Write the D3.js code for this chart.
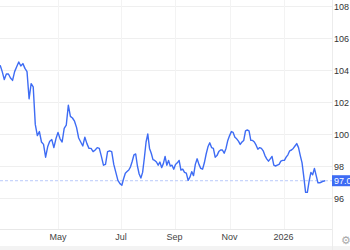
<!DOCTYPE html>
<html>
<head>
<meta charset="utf-8">
<script src="https://cdn.jsdelivr.net/npm/d3@7"></script>
<style>
	html, body { margin: 0; padding: 0; background: #fff; }
	svg { display: block; font-family: "Liberation Sans", Arial, sans-serif; }
</style>
</head>
<body>
<svg class="viz" width="350" height="250"></svg>
<script>
// Dollar index, one reading every 2 days from 6 Mar 2025
const startDate = new Date(2025, 2, 6);
const values = [
	104.3, 103.9, 103.4, 103.75, 103.75, 103.5, 103.35, 103.9, 104.2, 104.5,
	104.25, 104.4, 104.1, 103.9, 102.2, 103.15, 102.95, 100.6, 99.9, 100.15,
	99.5, 99.35, 98.55, 99.2, 99.55, 99.65, 99.15, 99.7, 100.1, 99.7,
	99.5, 100.35, 100.55, 101.8, 101.1, 101.0, 100.8, 100.4, 99.75, 99.5,
	99.25, 99.8, 99.4, 99.1, 99.1, 98.9, 99.0, 99.15, 99.1, 98.6,
	98.05, 98.1, 98.9, 98.95, 98.9, 98.1, 97.6, 97.1, 96.9, 96.8,
	97.2, 97.55, 97.65, 97.75, 97.95, 98.3, 98.7, 98.75, 98.0, 97.5,
	97.25, 97.6, 98.5, 99.5, 100.0, 99.1, 98.8, 98.4, 98.35, 98.25,
	98.05, 98.25, 97.9, 98.15, 98.6, 98.05, 98.35, 98.0, 98.05, 97.8,
	98.1, 98.2, 98.35, 97.75, 97.8, 97.6, 97.55, 97.1, 97.3, 97.65,
	97.4, 98.1, 98.45, 98.1, 97.85, 97.8, 98.2, 98.75, 99.2, 99.45,
	99.15, 99.1, 98.55, 98.65, 98.9, 99.0, 99.0, 98.8, 99.1, 99.6,
	99.9, 100.15, 100.1, 99.8, 99.7, 99.55, 99.35, 99.5, 99.6, 100.2,
	100.25, 100.2, 99.6, 99.6, 99.5, 99.3, 99.05, 99.15, 99.1, 98.95,
	98.65, 98.45, 98.3, 98.45, 98.6, 98.05, 98.0, 98.05, 98.1, 98.3,
	98.35, 98.35, 98.55, 98.7, 98.95, 99.0, 99.1, 99.25, 99.4, 99.15,
	98.65, 98.2, 97.3, 96.35, 96.35, 97.05, 97.6, 97.45, 97.85, 97.4,
	96.95, 96.95, 97.0, 97.05, 97.08
];
const dates = values.map((v, i) => d3.timeDay.offset(startDate, i * 2));

const tickDates = [new Date(2025, 4, 1), new Date(2025, 6, 1), new Date(2025, 8, 1), new Date(2025, 10, 1), new Date(2026, 0, 1)];
const tickLabels = ["May", "Jul", "Sep", "Nov", "2026"];
const yTicks = [96, 98, 100, 102, 104, 106, 108];
const lastLabel = "97.08";

function render() {
	let grph = d3.select(".viz");
	const plotR = 332;
	const plotB = 229;

	// piecewise time scale, the source chart spaces its months unevenly
	let x = d3.scaleTime().domain(tickDates).range([58, 121, 174.6, 229.6, 283.5]);
	let y = d3.scaleLinear().domain([94, 108]).range([230, 6]);

	// bottom strip
	grph.append("rect").attr("x", 0).attr("y", 246).attr("width", 350).attr("height", 4).attr("fill", "#f3f3f3");

	// grid
	grph.append("g").selectAll("line").data(yTicks).join("line")
		.attr("x1", 0).attr("x2", plotR)
		.attr("y1", d => y(d) + 0.5).attr("y2", d => y(d) + 0.5)
		.attr("stroke", "#efefef").attr("stroke-width", 1);
	grph.append("g").selectAll("line").data(tickDates).join("line")
		.attr("x1", d => Math.round(x(d)) + 0.5).attr("x2", d => Math.round(x(d)) + 0.5)
		.attr("y1", 0).attr("y2", plotB)
		.attr("stroke", "#f3f3f3").attr("stroke-width", 1);

	// frame
	grph.append("line").attr("x1", 0).attr("x2", plotR).attr("y1", plotB + 0.5).attr("y2", plotB + 0.5)
		.attr("stroke", "#e8e8e8");
	grph.append("line").attr("x1", plotR + 0.5).attr("x2", plotR + 0.5).attr("y1", 0).attr("y2", 250)
		.attr("stroke", "#ececec");

	// y labels
	grph.append("g").selectAll("text").data(yTicks).join("text")
		.attr("x", 334).attr("y", d => y(d) + 3.5)
		.attr("font-size", 9).attr("fill", "#333")
		.text(d => d);

	// x labels
	grph.append("g").selectAll("text").data(tickDates).join("text")
		.attr("x", d => x(d)).attr("y", 240)
		.attr("text-anchor", "middle")
		.attr("font-size", 9).attr("fill", "#444")
		.text((d, i) => tickLabels[i]);

	// last value marker line
	let last = values[values.length - 1];
	grph.append("line").attr("x1", 0).attr("x2", plotR)
		.attr("y1", y(last)).attr("y2", y(last))
		.attr("stroke", "#b9c9fa").attr("stroke-width", 1).attr("stroke-dasharray", "3,2");

	let line = d3.line()
		.x((d, i) => x(dates[i]))
		.y((d) => y(d));
	grph.append("path").attr("d", line(values))
		.attr("fill", "none").attr("stroke", "#3e6cf4").attr("stroke-width", 1.4)
		.attr("stroke-linejoin", "round");

	// last value label
	grph.append("rect").attr("x", plotR).attr("y", y(last) - 5.5).attr("width", 20).attr("height", 11)
		.attr("fill", "#3e6cf4");
	grph.append("text").attr("x", 334).attr("y", y(last) + 3.3)
		.attr("font-size", 9).attr("fill", "#fff").text(lastLabel);

	// settings icon
	grph.append("text").attr("x", 346).attr("y", 244).attr("text-anchor", "middle")
		.attr("font-size", 11).attr("fill", "#aaa").text("\u2699");
}

render();
</script>
</body>
</html>
